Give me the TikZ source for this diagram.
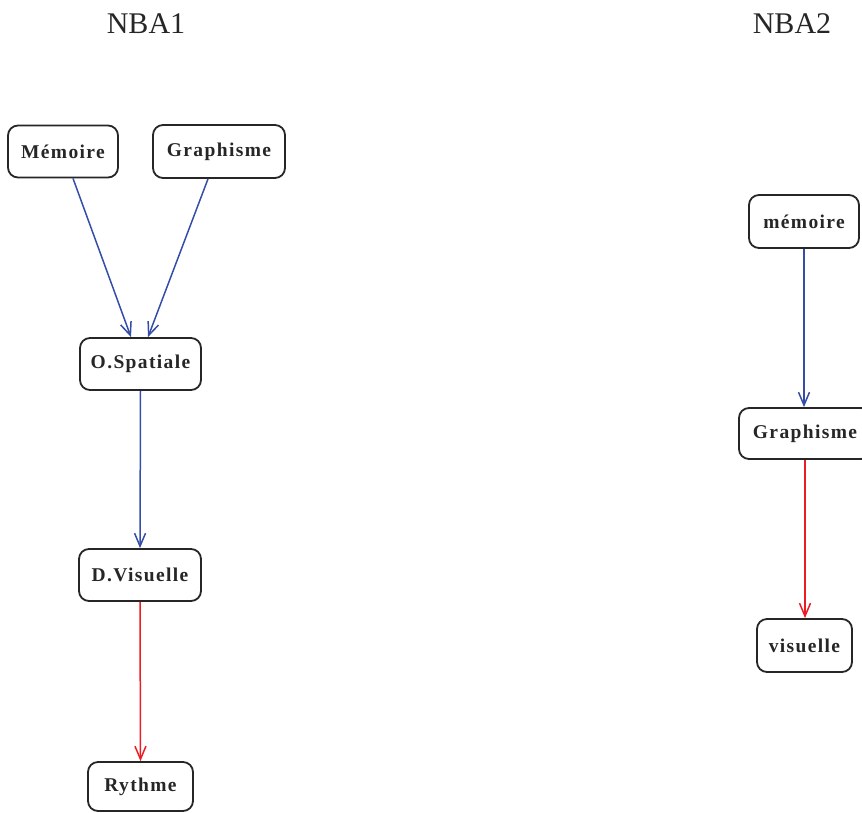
\documentclass[tikz,border=0pt]{standalone}
\usepackage{fontspec}
\setmainfont{Liberation Serif}
\usetikzlibrary{arrows.meta,calc}
\definecolor{eblue}{RGB}{52,78,168}
\definecolor{ered}{RGB}{236,28,36}
\begin{document}
\begin{tikzpicture}[x=1pt,y=-1pt,
  box/.style={draw=black!85,line width=1.8pt,rounded corners=10pt,fill=white,inner sep=0pt,
    font=\fontsize{19.5}{21}\selectfont\bfseries\addfontfeature{LetterSpace=7},text=black!85},
  title/.style={font=\fontsize{30}{32}\selectfont,text=black!85},
  bl/.style={draw=eblue,line width=1.5pt,-{Straight Barb[length=13pt,width=11pt]}},
  rd/.style={draw=ered,line width=1.5pt,-{Straight Barb[length=13pt,width=11pt]}}]
\useasboundingbox (0,0) rectangle (862,812);
\node[title] (t1) at (146,24) {NBA1};
\node[title] (t2) at (792,24) {NBA2};
\node[box,minimum width=110pt,minimum height=52pt] (mem1) at (63,151.5) {Mémoire};
\node[box,minimum width=132pt,minimum height=53pt] (gra1) at (219,151.5) {Graphisme};
\node[box,minimum width=121pt,minimum height=52pt] (osp) at (140.5,364) {O.Spatiale};
\node[box,minimum width=122pt,minimum height=52pt] (dvi) at (140,575) {D.Visuelle};
\node[box,minimum width=105pt,minimum height=49pt] (ryt) at (140.5,786.5) {Rythme};
\node[box,minimum width=110pt,minimum height=53pt] (mem2) at (804,221.5) {mémoire};
\node[box,minimum width=132pt,minimum height=51pt] (gra2) at (805,433.5) {Graphisme};
\node[box,minimum width=95pt,minimum height=53pt] (vis) at (804.5,645.5) {visuelle};
\draw[bl] ($(mem1.south)+(10,0)$) -- ($(osp.north)+(-9.5,0)$);
\draw[bl] ($(gra1.south)+(-11,0)$) -- ($(osp.north)+(7.5,0)$);
\draw[bl] (osp.south) -- (dvi.north);
\draw[rd] (dvi.south) -- (ryt.north);
\draw[bl] (mem2.south) -- (mem2.south |- gra2.north);
\draw[rd] (gra2.south) -- (gra2.south |- vis.north);
\end{tikzpicture}
\end{document}
